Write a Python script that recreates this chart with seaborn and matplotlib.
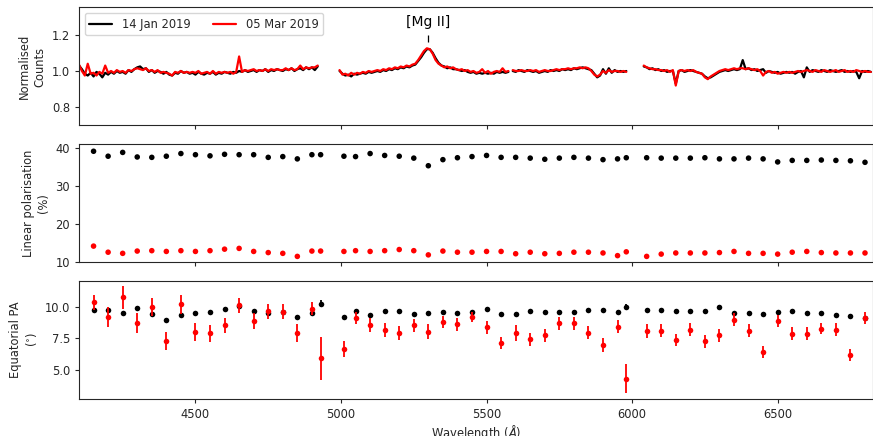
import numpy as np
import pandas as pd
import matplotlib
matplotlib.use("Agg")
import matplotlib.pyplot as plt
import seaborn as sns

epochs = ["14 Jan 2019", "05 Mar 2019"]
colours = ["black", "red"]

# normalised spectra, read every 10 A along each chip segment
seg_starts = [4100, 4995, 5590, 6040]

jan_seg1 = [1.030, 1.010, 0.985, 0.975, 0.990, 0.970, 0.995, 0.985, 0.965, 0.990,
            0.980, 0.995, 0.985, 1.000, 0.990, 0.995, 0.985, 1.005, 0.995, 1.010,
            1.020, 1.025, 1.010, 1.015, 0.995, 1.005, 0.990, 1.000, 0.995, 0.985,
            0.995, 0.980, 0.975, 0.990, 0.985, 1.000, 0.990, 0.995, 0.985, 0.990,
            0.980, 0.995, 0.985, 0.980, 0.990, 0.985, 0.995, 0.980, 0.990, 0.985,
            0.995, 0.990, 0.985, 0.995, 0.990, 1.000, 0.995, 1.005, 0.995, 1.000,
            1.005, 0.995, 1.005, 1.000, 1.010, 0.995, 1.005, 1.000, 1.010, 1.005,
            1.000, 1.010, 1.005, 1.015, 1.000, 1.010, 1.015, 1.005, 1.020, 1.010,
            1.020, 1.005, 1.025]
mar_seg1 = [1.035, 1.000, 0.975, 1.040, 0.985, 0.990, 0.975, 0.995, 0.985, 1.030,
            0.990, 1.000, 0.990, 1.005, 0.995, 1.000, 0.990, 1.005, 1.000, 1.010,
            1.015, 1.010, 1.005, 1.015, 1.000, 1.005, 0.995, 1.005, 0.990, 0.995,
            0.990, 0.985, 0.975, 0.995, 0.990, 1.000, 0.990, 0.995, 0.990, 0.995,
            0.990, 1.000, 0.985, 0.990, 0.995, 0.985, 1.000, 0.985, 0.995, 0.990,
            0.995, 0.990, 0.995, 0.985, 0.995, 1.080, 0.995, 1.005, 1.000, 1.005,
            1.010, 1.000, 1.005, 1.000, 1.010, 1.000, 1.010, 1.005, 1.010, 1.005,
            1.005, 1.015, 1.005, 1.015, 1.005, 1.010, 1.030, 1.010, 1.020, 1.015,
            1.020, 1.020, 1.030]

jan_seg2a = [1.000, 0.985, 0.975, 0.980, 0.970, 0.985, 0.980, 0.985, 0.990, 0.985,
             0.995, 0.990, 0.995, 1.000, 0.995, 1.005, 1.000, 1.010, 1.005, 1.015,
             1.010, 1.020, 1.015, 1.025, 1.020, 1.030, 1.035, 1.055, 1.075, 1.100,
             1.120, 1.120, 1.100, 1.070, 1.045, 1.030, 1.025, 1.015, 1.020, 1.010,
             1.010, 1.005, 1.000, 1.005, 0.995, 0.990, 0.995, 0.985, 0.990, 0.985,
             0.990, 0.985, 0.990, 0.985, 0.995, 0.990, 0.995, 0.990, 0.995]
mar_seg2a = [1.005, 0.980, 0.985, 0.975, 0.990, 0.980, 0.990, 0.985, 0.995, 0.990,
             1.000, 0.995, 1.000, 1.005, 1.000, 1.010, 1.005, 1.015, 1.010, 1.020,
             1.015, 1.025, 1.020, 1.030, 1.025, 1.035, 1.040, 1.060, 1.085, 1.110,
             1.125, 1.120, 1.095, 1.060, 1.040, 1.030, 1.020, 1.025, 1.015, 1.020,
             1.010, 1.005, 1.010, 1.000, 1.005, 0.995, 1.000, 0.990, 0.995, 1.010,
             0.990, 1.000, 0.985, 0.995, 1.000, 0.995, 1.015, 0.995, 1.000]

jan_seg2b = [1.000, 0.995, 1.005, 1.000, 0.995, 1.005, 1.000, 0.995, 1.000, 0.990,
             0.995, 1.000, 0.995, 1.005, 1.000, 1.005, 1.000, 1.010, 1.005, 1.010,
             1.005, 1.015, 1.010, 1.015, 1.020, 1.015, 1.010, 1.005, 0.985, 0.965,
             0.975, 1.010, 0.985, 1.015, 0.990, 1.005, 0.995, 1.000, 0.995, 1.000]
mar_seg2b = [1.005, 1.000, 1.000, 1.005, 1.000, 1.000, 1.005, 1.000, 1.005, 0.995,
             1.000, 1.005, 1.000, 1.000, 1.005, 1.010, 1.005, 1.010, 1.010, 1.015,
             1.010, 1.015, 1.015, 1.020, 1.015, 1.020, 1.015, 1.000, 0.980, 0.970,
             0.980, 1.000, 0.990, 1.005, 0.995, 1.000, 1.000, 0.995, 1.000, 0.995]

jan_seg3 = [1.025, 1.020, 1.010, 1.015, 1.005, 1.010, 1.000, 1.005, 0.995, 1.000,
            1.000, 0.930, 1.000, 1.005, 0.995, 1.000, 1.005, 1.000, 0.995, 0.990,
            0.985, 0.970, 0.960, 0.965, 0.975, 0.985, 0.995, 1.000, 1.005, 1.000,
            1.005, 1.010, 1.005, 1.010, 1.060, 1.010, 1.015, 1.005, 1.010, 1.000,
            1.005, 1.010, 0.990, 1.000, 0.995, 0.990, 0.995, 0.985, 0.990, 0.995,
            0.990, 0.995, 0.985, 0.995, 1.000, 0.965, 1.020, 0.995, 1.005, 1.000,
            0.995, 1.005, 1.000, 0.995, 1.005, 1.000, 0.995, 1.000, 1.005, 0.995,
            1.000, 0.995, 1.000, 0.995, 0.960, 1.000, 0.995, 1.000, 0.995]
mar_seg3 = [1.030, 1.020, 1.015, 1.010, 1.010, 1.005, 1.005, 1.000, 1.005, 0.995,
            1.005, 0.920, 1.000, 1.005, 1.000, 1.005, 1.000, 1.005, 0.995, 0.990,
            0.985, 0.965, 0.955, 0.970, 0.980, 0.990, 1.000, 1.005, 1.010, 1.005,
            1.010, 1.015, 1.010, 1.015, 1.015, 1.010, 1.015, 1.010, 1.005, 1.010,
            1.000, 0.975, 0.995, 1.000, 0.990, 0.995, 0.985, 0.990, 0.995, 0.990,
            0.995, 0.990, 0.995, 1.000, 0.995, 1.000, 1.005, 1.000, 0.995, 1.005,
            1.000, 0.995, 1.005, 1.000, 0.995, 1.000, 1.005, 0.995, 1.000, 1.005,
            0.995, 1.000, 0.995, 1.005, 1.000, 0.995, 1.000, 0.995, 0.995]

spec_jan = [jan_seg1, jan_seg2a, jan_seg2b, jan_seg3]
spec_mar = [mar_seg1, mar_seg2a, mar_seg2b, mar_seg3]

# binned polarimetry
wave_bins = [4150, 4200, 4250, 4300, 4350, 4400, 4450, 4500, 4550, 4600,
             4650, 4700, 4750, 4800, 4850, 4900, 4930, 5010,
             5050, 5100, 5150, 5200, 5250, 5300, 5350, 5400, 5450, 5500,
             5550, 5600, 5650, 5700, 5750, 5800, 5850, 5900, 5950, 5980,
             6050, 6100, 6150, 6200, 6250, 6300, 6350, 6400, 6450, 6500,
             6550, 6600, 6650, 6700, 6750, 6800]

pol_jan = [39.1, 37.8, 38.8, 37.6, 37.5, 37.8, 38.5, 38.2, 37.9, 38.3,
           38.2, 38.2, 37.5, 37.7, 37.1, 38.2, 38.2, 37.8,
           37.7, 38.5, 38.0, 37.8, 37.3, 35.3, 36.9, 37.4, 37.7, 38.0,
           37.5, 37.5, 37.3, 37.0, 37.3, 37.5, 37.3, 36.9, 37.1, 37.4,
           37.4, 37.3, 37.3, 37.3, 37.4, 37.1, 37.1, 37.3, 37.1, 36.3,
           36.7, 36.7, 36.8, 36.7, 36.6, 36.2]
pol_mar = [14.2, 12.6, 12.3, 12.9, 13.0, 12.8, 13.0, 12.8, 13.0, 13.4,
           13.6, 12.8, 12.5, 12.3, 11.5, 12.9, 12.9, 12.8,
           13.0, 12.8, 13.0, 13.3, 13.0, 11.9, 12.9, 12.6, 12.6, 12.8,
           12.8, 12.2, 12.6, 12.2, 12.3, 12.6, 12.6, 12.4, 11.7, 12.7,
           11.5, 12.1, 12.4, 12.4, 12.4, 12.5, 12.8, 12.3, 12.3, 12.1,
           12.6, 12.8, 12.5, 12.4, 12.4, 12.4]

pa_jan = [9.76, 9.76, 9.50, 9.89, 9.37, 8.97, 9.29, 9.45, 9.60, 9.79,
          10.02, 9.63, 9.50, 9.53, 9.16, 9.50, 10.23, 9.18,
          9.63, 9.29, 9.68, 9.63, 9.37, 9.47, 9.58, 9.45, 9.55, 9.79,
          9.42, 9.40, 9.63, 9.58, 9.53, 9.55, 9.76, 9.71, 9.60, 9.97,
          9.76, 9.71, 9.68, 9.68, 9.68, 9.97, 9.50, 9.45, 9.40, 9.60,
          9.68, 9.47, 9.47, 9.31, 9.26, 9.10]
pa_jan_err = [0.15] * 16 + [0.25, 0.15] + [0.15] * 19 + [0.2] + [0.15] * 16
pa_mar = [10.34, 9.16, 10.73, 8.71, 9.97, 7.26, 10.18, 7.97, 7.89, 8.53,
          10.10, 8.84, 9.63, 9.60, 7.92, 9.84, 5.90, 6.63,
          9.10, 8.53, 8.13, 7.92, 8.50, 8.00, 8.76, 8.58, 9.16, 8.34,
          7.10, 7.92, 7.39, 7.73, 8.66, 8.66, 7.92, 6.95, 8.40, 4.29,
          8.05, 8.10, 7.34, 8.16, 7.24, 7.71, 8.97, 8.10, 6.40, 8.87,
          7.84, 7.84, 8.26, 8.18, 6.14, 9.10]
pa_mar_err = [0.59, 0.81, 0.92, 0.79, 0.74, 0.72, 0.74, 0.70, 0.66, 0.59,
              0.58, 0.64, 0.59, 0.59, 0.71, 0.53, 1.68, 0.64,
              0.46, 0.55, 0.53, 0.55, 0.55, 0.58, 0.49, 0.55, 0.41, 0.53,
              0.50, 0.63, 0.50, 0.53, 0.50, 0.50, 0.50, 0.53, 0.53, 1.12,
              0.53, 0.49, 0.47, 0.50, 0.50, 0.50, 0.49, 0.49, 0.49, 0.46,
              0.50, 0.50, 0.47, 0.49, 0.49, 0.46]

mg_ii_wave = 5300

sns.set_style("ticks")
plt.rcParams.update({
    "font.family": ["DejaVu Sans"],
    "font.size": 8.3,
    "axes.linewidth": 0.8,
})

fig, axes = plt.subplots(3, 1, figsize=(8.73, 4.36), dpi=100, sharex=True)
fig.subplots_adjust(left=0.0905, right=0.9995, top=0.983, bottom=0.0855, hspace=0.157)
ax1, ax2, ax3 = axes

# top: spectra
for name, colour, segs in zip(epochs, colours, [spec_jan, spec_mar]):
    for i, (start, vals) in enumerate(zip(seg_starts, segs)):
        wave = start + 10 * np.arange(len(vals))
        sns.lineplot(x=wave, y=vals, color=colour, lw=1.6, ax=ax1,
                     label=name if i == 0 else None)
ax1.legend(loc="upper left", ncol=2, fontsize=8.3, frameon=True)
ax1.text(mg_ii_wave, 1.272, "[Mg II]", ha="center", va="center", fontsize=10, color="black")
ax1.vlines(mg_ii_wave, 1.158, 1.198, color="black", lw=0.9)
ax1.set_ylim(0.70, 1.35)
ax1.set_yticks([0.8, 1.0, 1.2])
ax1.set_ylabel("Normalised\nCounts")

# middle: linear polarisation
df_pol = pd.DataFrame({"wave": wave_bins * 2, "pol": pol_jan + pol_mar,
                       "epoch": [epochs[0]] * len(wave_bins) + [epochs[1]] * len(wave_bins)})
sns.scatterplot(data=df_pol, x="wave", y="pol", hue="epoch", palette=colours,
                s=16, linewidth=0, legend=False, ax=ax2)
ax2.set_ylim(10, 41)
ax2.set_yticks([10, 20, 30, 40])
ax2.set_ylabel("Linear polarisation\n(%)")

# bottom: position angle
for vals, errs, colour, z in [(pa_jan, pa_jan_err, "black", 2), (pa_mar, pa_mar_err, "red", 4)]:
    ax3.errorbar(wave_bins, vals, yerr=errs, fmt="none", ecolor=colour,
                 elinewidth=1.3, capsize=0, zorder=z)
    sns.scatterplot(x=wave_bins, y=vals, color=colour, s=16, linewidth=0,
                    ax=ax3, zorder=z + 1)
ax3.set_ylim(2.7, 12.05)
ax3.set_yticks([5.0, 7.5, 10.0])
ax3.set_ylabel("Equatorial PA\n($^{\\circ}$)")
ax3.set_xlabel("Wavelength ($\\AA$)", labelpad=1.5)

ax3.set_xlim(4100, 6826)
ax3.set_xticks([4500, 5000, 5500, 6000, 6500])
for ax in axes:
    ax.tick_params(length=3, width=0.8)

fig.savefig("out.png", dpi=100)
